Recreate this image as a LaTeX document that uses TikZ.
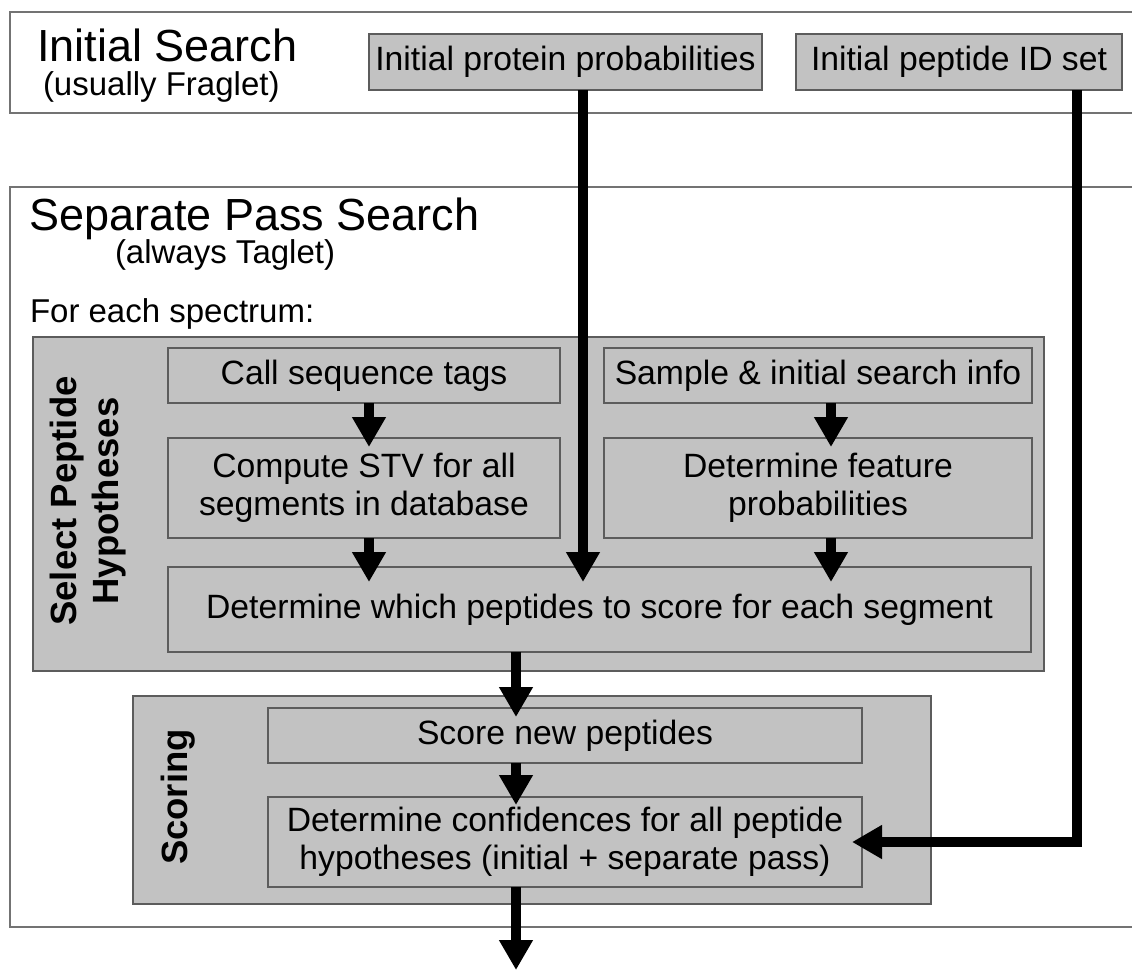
\documentclass[tikz,border=0pt]{standalone}
\usepackage{fontspec}
\setmainfont{Liberation Sans}
\usetikzlibrary{arrows.meta}

\definecolor{panelgray}{gray}{0.76}
\definecolor{edgegray}{gray}{0.36}
\definecolor{bandgray}{gray}{0.45}

\begin{document}
\begin{tikzpicture}[x=1pt,y=-1pt,
  every node/.style={inner sep=0pt, outer sep=0pt},
  band/.style={draw=bandgray, line width=1.5pt},
  panel/.style={draw=edgegray, fill=panelgray, line width=1.5pt},
  stepbox/.style={draw=edgegray, fill=panelgray, line width=1.5pt,
    align=center, font=\fontsize{33.7}{38}\selectfont},
  flow/.style={line width=10pt, -{Triangle[width=32pt,length=30pt]}},
  title/.style={font=\fontsize{45}{54}\selectfont, anchor=base west},
  sub/.style={font=\fontsize{33}{38}\selectfont, anchor=base west},
  side/.style={font=\bfseries\fontsize{36.5}{42}\selectfont, rotate=90, align=center}
]
\useasboundingbox (0,0) rectangle (1132,970);

% two horizontal bands, open on the right
\draw[band] (1132,12) -- (10,12) -- (10,113) -- (1132,113);
\draw[band] (1132,187) -- (10,187) -- (10,927) -- (1132,927);

% band headings
\node[title] (t1) at (37,61) {Initial Search};
\node[sub]   (s1) at (43,95) {(usually Fraglet)};
\node[title] (t2) at (29,230) {Separate Pass Search};
\node[sub]   (s2) at (115,263) {(always Taglet)};
\node[sub]   (fe) at (30,322) {For each spectrum:};

% inputs from the initial search
\node[stepbox, minimum width=393pt, minimum height=56pt] (prot) at (565.5,62) {Initial protein probabilities};
\node[stepbox, minimum width=326pt, minimum height=56pt] (pid)  at (959,62)   {Initial peptide ID set};

% panels
\node[panel, minimum width=1011pt, minimum height=334pt] (sel) at (538.5,504) {};
\node[panel, minimum width=798pt,  minimum height=208pt] (scp) at (532,800) {};
\node[side] (sell) at (88,501) {Select Peptide\\Hypotheses};
\node[side] (scl)  at (178,797) {Scoring};

% steps
\node[stepbox, minimum width=392pt, minimum height=55pt]  (call)  at (364,375.5) {Call sequence tags};
\node[stepbox, minimum width=392pt, minimum height=100pt] (stv)   at (364,488)   {Compute STV for all\\segments in database};
\node[stepbox, minimum width=428pt, minimum height=55pt]  (samp)  at (818,375.5) {Sample \& initial search info};
\node[stepbox, minimum width=428pt, minimum height=100pt] (feat)  at (818,488)   {Determine feature\\probabilities};
\node[stepbox, minimum width=863pt, minimum height=85pt]  (which) at (599.5,609.5) {Determine which peptides to score for each segment};
\node[stepbox, minimum width=594pt, minimum height=55pt]  (score) at (565,735.5) {Score new peptides};
\node[stepbox, minimum width=594pt, minimum height=90pt]  (conf)  at (565,842)   {Determine confidences for all peptide\\hypotheses (initial + separate pass)};

% arrow columns
\coordinate (xl)  at (369,0);
\coordinate (xr)  at (831,0);
\coordinate (xp)  at (583,0);
\coordinate (xs)  at (516,0);
\coordinate (xid) at (1077,0);
\coordinate (out) at (516,970);

\draw[flow, shorten >=-9pt]  (call.south -| xl) -- (stv.north -| xl);
\draw[flow, shorten >=-15pt] (stv.south -| xl)  -- (which.north -| xl);
\draw[flow, shorten >=-9pt]  (samp.south -| xr) -- (feat.north -| xr);
\draw[flow, shorten >=-15pt] (feat.south -| xr) -- (which.north -| xr);
\draw[flow, shorten >=-15pt] (prot.south -| xp) -- (which.north -| xp);
\draw[flow, shorten >=-9pt]  (which.south -| xs) -- (score.north -| xs);
\draw[flow, shorten >=-8pt]  (score.south -| xs) -- (conf.north -| xs);
\draw[flow] (conf.south -| xs) -- (out);
\draw[flow, line join=miter, shorten >=-10pt] (pid.south -| xid) |- (conf.east);
\end{tikzpicture}
\end{document}
